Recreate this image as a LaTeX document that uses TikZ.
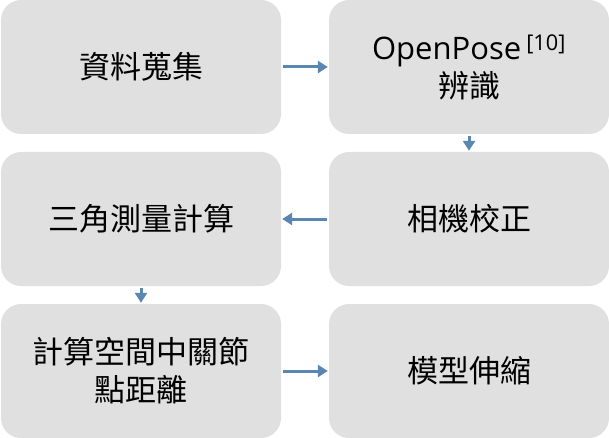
\documentclass[tikz,border=0pt]{standalone}
\usepackage{fontspec}
\setmainfont{Open Sans}
\newfontfamily\cjk{Noto Sans CJK TC}
\usetikzlibrary{positioning,arrows.meta}
\definecolor{boxgray}{RGB}{224,224,224}
\definecolor{flowblue}{RGB}{91,134,178}

\begin{document}
\begin{tikzpicture}[x=1pt,y=1pt,on grid,node distance=152pt and 328pt,
	stage/.style={shape=rectangle,rounded corners=20pt,fill=boxgray,minimum width=280pt,minimum height=134pt,align=center,font=\fontsize{31}{38}\selectfont\cjk},
	flow/.style={-{Triangle[length=10pt,width=12pt]},line width=3pt,flowblue,shorten <=2pt,shorten >=1pt}]
	% page frame
	\useasboundingbox (0,0) rectangle (609,-438);

	% left column top, then the rest relative to it
	\node [stage] (collect) at (141,-67) {資料蒐集};
	\node [stage,right=of collect] (openpose) {{\rmfamily OpenPose\,\textsuperscript{[10]}}\\辨識};
	\node [stage,below=of openpose] (calib) {相機校正};
	\node [stage,below=of collect] (triang) {三角測量計算};
	\node [stage,below=of triang] (joints) {計算空間中關節\\點距離};
	\node [stage,below=of calib] (rescale) {模型伸縮};

	% flow
	\draw [flow] (collect) -- (openpose);
	\draw [flow] (openpose) -- (calib);
	\draw [flow] (calib) -- (triang);
	\draw [flow] (triang) -- (joints);
	\draw [flow] (joints) -- (rescale);
\end{tikzpicture}
\end{document}
